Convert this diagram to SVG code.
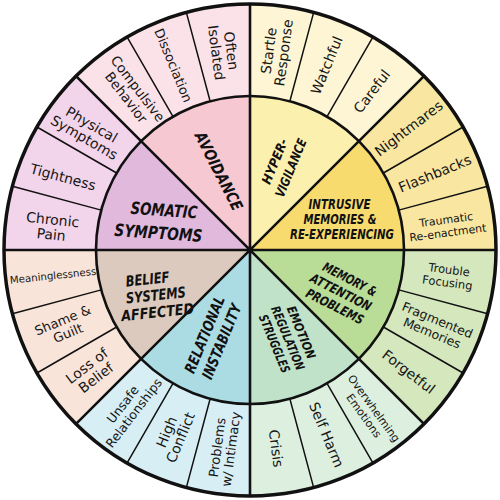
<svg xmlns="http://www.w3.org/2000/svg" width="500" height="500" viewBox="0 0 500 500">
<style>
.t{font-family:"DejaVu Sans","Liberation Sans",sans-serif;font-size:14px;fill:#161616;text-anchor:middle}
.h{font-family:"DejaVu Sans","Liberation Sans",sans-serif;font-weight:bold;font-style:italic;fill:#111;text-anchor:middle}
.av-i{fill:#f6c8d2}.av-o{fill:#fbe2e8}
.hv-i{fill:#fcf0ae}.hv-o{fill:#fdf5d3}
.in-i{fill:#f7db6e}.in-o{fill:#f9e7a1}
.me-i{fill:#b9dc97}.me-o{fill:#d5e7bd}
.em-i{fill:#c0e2c8}.em-o{fill:#ddf0e0}
.re-i{fill:#acdce3}.re-o{fill:#d6eef4}
.be-i{fill:#dbcabd}.be-o{fill:#f9e4d9}
.so-i{fill:#e0b9dd}.so-o{fill:#f2d4eb}
.thin{stroke:#111;stroke-width:1.5;fill:none}
.thick{stroke:#111;stroke-width:2.6;fill:none}
</style>
<rect width="500" height="500" fill="#fff"/>

<!-- Outer segments -->
<g id="startle-response"><path class="hv-o" d="M250,96 L250,4 A246,246 0 0 1 313.67,12.38 L289.86,101.25 A154,154 0 0 0 250,96Z"/>
<text class="t" transform="translate(276.11,51.71) rotate(-82.5)"><tspan x="0" y="-2.5">Startle</tspan><tspan x="0" y="12.5">Response</tspan></text></g>
<g id="watchful"><path class="hv-o" d="M289.86,101.25 L313.67,12.38 A246,246 0 0 1 373,36.96 L327,116.63 A154,154 0 0 0 289.86,101.25Z"/>
<text class="t" transform="translate(326.54,65.22) rotate(-67.5)" y="5">Watchful</text></g>
<g id="careful"><path class="hv-o" d="M327,116.63 L373,36.96 A246,246 0 0 1 423.95,76.05 L358.89,141.11 A154,154 0 0 0 327,116.63Z"/>
<text class="t" transform="translate(371.75,91.33) rotate(-52.5)" y="5">Careful</text></g>

<g id="nightmares"><path class="in-o" d="M358.89,141.11 L423.95,76.05 A246,246 0 0 1 463.04,127 L383.37,173 A154,154 0 0 0 358.89,141.11Z"/>
<text class="t" transform="translate(408.67,128.25) rotate(-37.5)" y="5">Nightmares</text></g>
<g id="flashbacks"><path class="in-o" d="M383.37,173 L463.04,127 A246,246 0 0 1 487.62,186.33 L398.75,210.14 A154,154 0 0 0 383.37,173Z"/>
<text class="t" transform="translate(434.78,173.46) rotate(-22.5)" y="5">Flashbacks</text></g>
<g id="traumatic-reenactment"><path class="in-o" d="M398.75,210.14 L487.62,186.33 A246,246 0 0 1 496,250 L404,250 A154,154 0 0 0 398.75,210.14Z"/>
<text class="t" style="font-size:11px" transform="translate(447,226) rotate(-7.5)"><tspan x="0" y="-2.5">Traumatic</tspan><tspan x="0" y="10.5">Re-enactment</tspan></text></g>

<g id="trouble-focusing"><path class="me-o" d="M404,250 L496,250 A246,246 0 0 1 487.62,313.67 L398.75,289.86 A154,154 0 0 0 404,250Z"/>
<text class="t" style="font-size:11.5px" transform="translate(448.29,276.11) rotate(7.5)"><tspan x="0" y="-2.4">Trouble</tspan><tspan x="0" y="10.6">Focusing</tspan></text></g>
<g id="fragmented-memories"><path class="me-o" d="M398.75,289.86 L487.62,313.67 A246,246 0 0 1 463.04,373 L383.37,327 A154,154 0 0 0 398.75,289.86Z"/>
<text class="t" style="font-size:12.5px" transform="translate(434.78,326.54) rotate(22.5)"><tspan x="0" y="-2.5">Fragmented</tspan><tspan x="0" y="11.5">Memories</tspan></text></g>
<g id="forgetful"><path class="me-o" d="M383.37,327 L463.04,373 A246,246 0 0 1 423.95,423.95 L358.89,358.89 A154,154 0 0 0 383.37,327Z"/>
<text class="t" transform="translate(408.67,371.75) rotate(37.5)" y="5">Forgetful</text></g>

<g id="overwhelming-emotions"><path class="em-o" d="M358.89,358.89 L423.95,423.95 A246,246 0 0 1 373,463.04 L327,383.37 A154,154 0 0 0 358.89,358.89Z"/>
<text class="t" style="font-size:11px" transform="translate(369,412) rotate(54)"><tspan x="0" y="-2.3">Overwhelming</tspan><tspan x="0" y="10.2">Emotions</tspan></text></g>
<g id="self-harm"><path class="em-o" d="M327,383.37 L373,463.04 A246,246 0 0 1 313.67,487.62 L289.86,398.75 A154,154 0 0 0 327,383.37Z"/>
<text class="t" transform="translate(326.54,434.78) rotate(67.5)" y="5">Self Harm</text></g>
<g id="crisis"><path class="em-o" d="M289.86,398.75 L313.67,487.62 A246,246 0 0 1 250,496 L250,404 A154,154 0 0 0 289.86,398.75Z"/>
<text class="t" transform="translate(276.11,448.29) rotate(82.5)" y="5">Crisis</text></g>

<g id="problems-intimacy"><path class="re-o" d="M250,404 L250,496 A246,246 0 0 1 186.33,487.62 L210.14,398.75 A154,154 0 0 0 250,404Z"/>
<text class="t" style="font-size:13px" transform="translate(223.89,448.29) rotate(-82.5)"><tspan x="0" y="-2.3">Problems</tspan><tspan x="0" y="11.7">w/ Intimacy</tspan></text></g>
<g id="high-conflict"><path class="re-o" d="M210.14,398.75 L186.33,487.62 A246,246 0 0 1 127,463.04 L173,383.37 A154,154 0 0 0 210.14,398.75Z"/>
<text class="t" transform="translate(173.46,434.78) rotate(-67.5)"><tspan x="0" y="-2.5">High</tspan><tspan x="0" y="12.5">Conflict</tspan></text></g>
<g id="unsafe-relationships"><path class="re-o" d="M173,383.37 L127,463.04 A246,246 0 0 1 76.05,423.95 L141.11,358.89 A154,154 0 0 0 173,383.37Z"/>
<text class="t" style="font-size:12.5px" transform="translate(128.25,408.67) rotate(-52.5)"><tspan x="0" y="-2.5">Unsafe</tspan><tspan x="0" y="11.5">Relationships</tspan></text></g>

<g id="loss-of-belief"><path class="be-o" d="M141.11,358.89 L76.05,423.95 A246,246 0 0 1 36.96,373 L116.63,327 A154,154 0 0 0 141.11,358.89Z"/>
<text class="t" transform="translate(91.33,371.75) rotate(-37.5)"><tspan x="0" y="-2.5">Loss of</tspan><tspan x="0" y="12.5">Belief</tspan></text></g>
<g id="shame-guilt"><path class="be-o" d="M116.63,327 L36.96,373 A246,246 0 0 1 12.38,313.67 L101.25,289.86 A154,154 0 0 0 116.63,327Z"/>
<text class="t" style="font-size:13px" transform="translate(65.22,326.54) rotate(-22.5)"><tspan x="0" y="-2.3">Shame &amp;</tspan><tspan x="0" y="11.7">Guilt</tspan></text></g>
<g id="meaninglessness"><path class="be-o" d="M101.25,289.86 L12.38,313.67 A246,246 0 0 1 4,250 L96,250 A154,154 0 0 0 101.25,289.86Z"/>
<text class="t" style="font-size:10.2px" transform="translate(53,275.5) rotate(-6)" y="3.7">Meaninglessness</text></g>

<g id="chronic-pain"><path class="so-o" d="M96,250 L4,250 A246,246 0 0 1 12.38,186.33 L101.25,210.14 A154,154 0 0 0 96,250Z"/>
<text class="t" transform="translate(52,227) rotate(6)"><tspan x="0" y="-2.5">Chronic</tspan><tspan x="0" y="12.5">Pain</tspan></text></g>
<g id="tightness"><path class="so-o" d="M101.25,210.14 L12.38,186.33 A246,246 0 0 1 36.96,127 L116.63,173 A154,154 0 0 0 101.25,210.14Z"/>
<text class="t" transform="translate(63,177) rotate(15)" y="5">Tightness</text></g>
<g id="physical-symptoms"><path class="so-o" d="M116.63,173 L36.96,127 A246,246 0 0 1 76.05,76.05 L141.11,141.11 A154,154 0 0 0 116.63,173Z"/>
<text class="t" transform="translate(88,131) rotate(30)"><tspan x="0" y="-2.5">Physical</tspan><tspan x="0" y="12.5">Symptoms</tspan></text></g>

<g id="compulsive-behavior"><path class="av-o" d="M141.11,141.11 L76.05,76.05 A246,246 0 0 1 127,36.96 L173,116.63 A154,154 0 0 0 141.11,141.11Z"/>
<text class="t" style="font-size:13.5px" transform="translate(132,93) rotate(52.5)"><tspan x="0" y="-2.5">Compulsive</tspan><tspan x="0" y="12">Behavior</tspan></text></g>
<g id="dissociation"><path class="av-o" d="M173,116.63 L127,36.96 A246,246 0 0 1 186.33,12.38 L210.14,101.25 A154,154 0 0 0 173,116.63Z"/>
<text class="t" style="font-size:13px" transform="translate(173.46,65.22) rotate(67.5)" y="4.7">Dissociation</text></g>
<g id="often-isolated"><path class="av-o" d="M210.14,101.25 L186.33,12.38 A246,246 0 0 1 250,4 L250,96 A154,154 0 0 0 210.14,101.25Z"/>
<text class="t" transform="translate(223.89,51.71) rotate(82.5)"><tspan x="0" y="-2.5">Often</tspan><tspan x="0" y="12.5">Isolated</tspan></text></g>

<!-- Inner categories -->
<g id="avoidance"><path class="av-i" d="M250,250 L141.11,141.11 A154,154 0 0 1 250,96Z"/>
<text class="h" style="font-size:16px" transform="translate(219,171) rotate(63)" y="5.8" textLength="86" lengthAdjust="spacingAndGlyphs">AVOIDANCE</text></g>
<g id="hyper-vigilance"><path class="hv-i" d="M250,250 L250,96 A154,154 0 0 1 358.89,141.11Z"/>
<g transform="translate(282.7,164.6) rotate(-67.5)">
<text class="h" style="font-size:13px" x="0" y="-4" textLength="48" lengthAdjust="spacingAndGlyphs">HYPER-</text>
<text class="h" style="font-size:13px" x="0" y="13.4" textLength="62" lengthAdjust="spacingAndGlyphs">VIGILANCE</text></g></g>
<g id="intrusive-memories"><path class="in-i" d="M250,250 L358.89,141.11 A154,154 0 0 1 404,250Z"/>
<text class="h" style="font-size:13.5px" x="339.5" y="208.7" textLength="62" lengthAdjust="spacingAndGlyphs">INTRUSIVE</text>
<text class="h" style="font-size:13.5px" x="340" y="223.6" textLength="73" lengthAdjust="spacingAndGlyphs">MEMORIES &amp;</text>
<text class="h" style="font-size:13.5px" x="342" y="238.7" textLength="104" lengthAdjust="spacingAndGlyphs">RE-EXPERIENCING</text></g>
<g id="memory-attention"><path class="me-i" d="M250,250 L404,250 A154,154 0 0 1 358.89,358.89Z"/>
<g transform="translate(341,292) rotate(27)">
<text class="h" style="font-size:13px" x="2" y="-10.8" textLength="59" lengthAdjust="spacingAndGlyphs">MEMORY &amp;</text>
<text class="h" style="font-size:13px" x="0" y="4.7" textLength="67" lengthAdjust="spacingAndGlyphs">ATTENTION</text>
<text class="h" style="font-size:13px" x="1" y="20.2" textLength="63" lengthAdjust="spacingAndGlyphs">PROBLEMS</text></g></g>
<g id="emotion-regulation"><path class="em-i" d="M250,250 L358.89,358.89 A154,154 0 0 1 250,404Z"/>
<g transform="translate(288,338) rotate(67.5)">
<text class="h" style="font-size:12.5px" x="0" y="-10" textLength="56" lengthAdjust="spacingAndGlyphs">EMOTION</text>
<text class="h" style="font-size:12.5px" x="0" y="4.5" textLength="68" lengthAdjust="spacingAndGlyphs">REGULATION</text>
<text class="h" style="font-size:12.5px" x="0" y="19" textLength="62" lengthAdjust="spacingAndGlyphs">STRUGGLES</text></g></g>
<g id="relational-instability"><path class="re-i" d="M250,250 L250,404 A154,154 0 0 1 141.11,358.89Z"/>
<g transform="translate(213,338) rotate(-67.5)">
<text class="h" style="font-size:15px" x="0" y="-3.8" textLength="82" lengthAdjust="spacingAndGlyphs">RELATIONAL</text>
<text class="h" style="font-size:15px" x="0" y="14.6" textLength="80" lengthAdjust="spacingAndGlyphs">INSTABILITY</text></g></g>
<g id="belief-systems"><path class="be-i" d="M250,250 L141.11,358.89 A154,154 0 0 1 96,250Z"/>
<text class="h" style="font-size:15px" transform="translate(147.5,279) rotate(-6)" y="5.4" textLength="44" lengthAdjust="spacingAndGlyphs">BELIEF</text>
<text class="h" style="font-size:15px" transform="translate(155.8,295) rotate(-6)" y="5.4" textLength="60" lengthAdjust="spacingAndGlyphs">SYSTEMS</text>
<text class="h" style="font-size:15px" transform="translate(157.5,312) rotate(-6)" y="5.4" textLength="73" lengthAdjust="spacingAndGlyphs">AFFECTED</text></g>
<g id="somatic-symptoms"><path class="so-i" d="M250,250 L96,250 A154,154 0 0 1 141.11,141.11Z"/>
<g transform="rotate(4,161,221)">
<text class="h" style="font-size:17px" x="163.3" y="216" textLength="67" lengthAdjust="spacingAndGlyphs">SOMATIC</text>
<text class="h" style="font-size:17px" x="159.2" y="239" textLength="88" lengthAdjust="spacingAndGlyphs">SYMPTOMS</text></g></g>

<!-- Dividers -->
<g id="connectors">
<path class="thin" d="M289.86,101.25 L313.67,12.38 M327,116.63 L373,36.96 M383.37,173 L463.04,127 M398.75,210.14 L487.62,186.33 M398.75,289.86 L487.62,313.67 M383.37,327 L463.04,373 M327,383.37 L373,463.04 M289.86,398.75 L313.67,487.62 M210.14,398.75 L186.33,487.62 M173,383.37 L127,463.04 M116.63,327 L36.96,373 M101.25,289.86 L12.38,313.67 M101.25,210.14 L12.38,186.33 M116.63,173 L36.96,127 M173,116.63 L127,36.96 M210.14,101.25 L186.33,12.38"/>
<path class="thick" d="M250,4 L250,496 M423.95,76.05 L76.05,423.95 M496,250 L4,250 M423.95,423.95 L76.05,76.05"/>
<circle class="thick" cx="250" cy="250" r="154"/>
<circle cx="250" cy="250" r="246" fill="none" stroke="#111" stroke-width="3.5"/>
</g>
</svg>
